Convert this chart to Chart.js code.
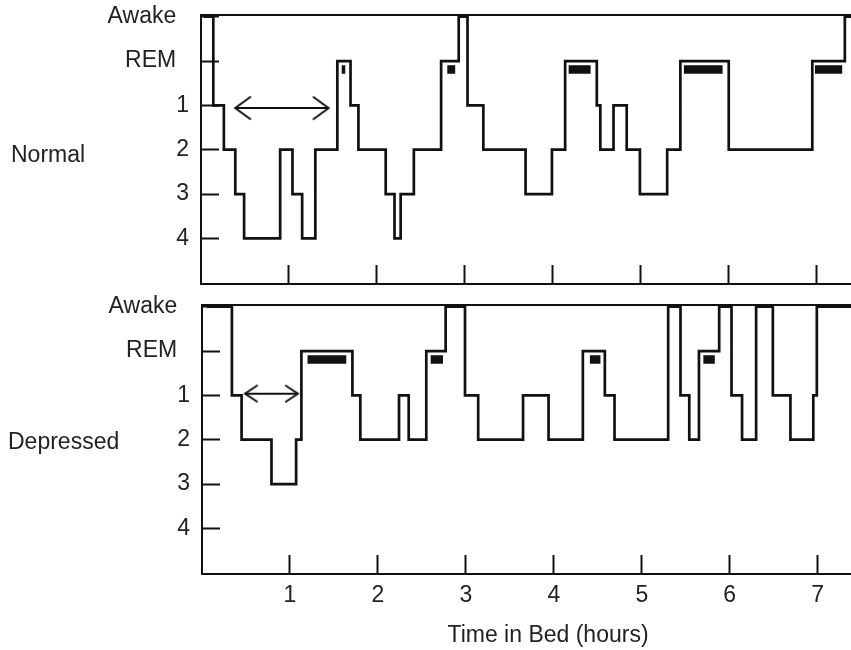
<!DOCTYPE html>
<html>
<head>
<meta charset="utf-8">
<script src="https://cdn.jsdelivr.net/npm/chart.js@4.4.0/dist/chart.umd.min.js"></script>
<style>
  html, body { margin: 0; padding: 0; background: #fff; overflow: hidden; }
  body { width: 851px; height: 650px; position: relative; font-family: "Liberation Sans", Arial, sans-serif; color: #222; }
  .panel { position: absolute; }
  #normalBox { left: 0; top: 0; width: 851px; height: 300px; }
  #depressedBox { left: 1px; top: 290px; width: 851px; height: 360px; }
  .label { position: absolute; font-size: 23px; line-height: 27px; white-space: nowrap; }
</style>
</head>
<body>
<div id="normalBox" class="panel"><canvas id="normalChart"></canvas></div>
<div id="depressedBox" class="panel"><canvas id="depressedChart"></canvas></div>
<div class="label" style="left:11px; top:141px">Normal</div>
<div class="label" style="left:8px; top:428px">Depressed</div>
<div class="label" style="left:548px; top:621px; transform: translateX(-50%)">Time in Bed (hours)</div>
<script>
// стадії сну знизу вгору (індекс = значення на осі y)
const stageLabels = ['4', '3', '2', '1', 'REM', 'Awake'];
const hourTicks = [1, 2, 3, 4, 5, 6, 7];

// норма: час початку кожної стадії (години) і сама стадія
const normalTimes = [0.03, 0.14, 0.26, 0.39, 0.49, 0.90, 1.04, 1.15, 1.30, 1.55, 1.70, 1.79, 2.10, 2.20, 2.27, 2.42, 2.73,
  2.93, 3.03, 3.21, 3.69, 3.99, 4.14, 4.50, 4.54, 4.69, 4.84, 4.99, 5.30, 5.45, 6.00, 6.95, 7.32, 7.45];
const normalStages = ['Awake', '1', '2', '3', '4', '2', '3', '4', '2', 'REM', '1', '2', '3', '4', '3', '2', 'REM',
  'Awake', '1', '2', '3', '2', 'REM', '1', '2', '1', '2', '3', '2', 'REM', '2', 'REM', 'Awake', 'Awake'];

// депресія
const depressedTimes = [0.05, 0.34, 0.45, 0.79, 1.07, 1.13, 1.71, 1.80, 2.24, 2.35, 2.55, 2.77, 2.99, 3.14, 3.65, 3.94,
  4.33, 4.58, 4.69, 5.30, 5.44, 5.54, 5.65, 5.88, 6.02, 6.14, 6.30, 6.49, 6.69, 6.95, 6.99, 7.45];
const depressedStages = ['Awake', '1', '2', '3', '2', 'REM', '1', '2', '1', '2', 'REM', 'Awake', '1', '2', '1', '2',
  'REM', '1', '2', 'Awake', '1', '2', 'REM', 'Awake', '1', '2', 'Awake', '1', '2', '1', 'Awake', 'Awake'];

// чорні смужки під REM (рухи очей)
const normalRemStart = [1.60, 2.80, 4.18, 5.49, 6.98];
const normalRemEnd = [1.64, 2.89, 4.43, 5.93, 7.29];
const depressedRemStart = [1.20, 2.60, 4.41, 5.70];
const depressedRemEnd = [1.64, 2.74, 4.53, 5.83];
const remMarkLevel = 3.81;

// латентність сну (стрілки)
const normalLatency = [0.39, 1.45];
const normalLatencyLevel = 2.94;
const depressedLatency = [0.49, 1.09];
const depressedLatencyLevel = 3.04;

const ink = '#111';
const textInk = '#222';
const font = { family: '"Liberation Sans", Arial, sans-serif', size: 23 };

function stepPoints(times, stages) {
  return times.map((t, i) => ({ x: t, y: stageLabels.indexOf(stages[i]) }));
}

function remPoints(starts, ends) {
  const pts = [];
  starts.forEach((s, i) => {
    pts.push({ x: s, y: remMarkLevel }, { x: ends[i], y: remMarkLevel }, { x: ends[i], y: null });
  });
  return pts;
}

// відкритий наконечник стрілки, вістря в центрі
function makeHead(len, half) {
  const c = document.createElement('canvas');
  c.width = len * 2 + 4;
  c.height = half * 2 + 4;
  const g = c.getContext('2d');
  g.strokeStyle = ink;
  g.lineWidth = 2;
  g.lineCap = 'round';
  g.beginPath();
  g.moveTo(c.width / 2 - len, c.height / 2 - half);
  g.lineTo(c.width / 2, c.height / 2);
  g.lineTo(c.width / 2 - len, c.height / 2 + half);
  g.stroke();
  return c;
}

// фіксований розмір осі без додаткових відступів
function fixSize(prop, size) {
  return s => {
    s[prop] = size;
    s.paddingTop = 0;
    s.paddingBottom = 0;
    s.paddingLeft = 0;
    s.paddingRight = 0;
  };
}

function makePanel(id, times, stages, remStart, remEnd, latency, latencyLevel, head, xAxisHeight, showLabels) {
  new Chart(document.getElementById(id), {
    type: 'line',
    data: {
      datasets: [
        {
          data: stepPoints(times, stages),
          stepped: true,
          borderColor: ink,
          borderWidth: 2.7,
          pointRadius: 0,
          fill: false
        },
        {
          data: remPoints(remStart, remEnd),
          borderColor: ink,
          borderWidth: 8.5,
          borderCapStyle: 'butt',
          pointRadius: 0,
          spanGaps: false
        },
        {
          data: [{ x: latency[0], y: latencyLevel }, { x: latency[1], y: latencyLevel }],
          borderColor: ink,
          borderWidth: 2,
          pointStyle: [head, head],
          pointRotation: [180, 0],
          pointRadius: 5
        }
      ]
    },
    options: {
      responsive: true,
      maintainAspectRatio: false,
      animation: false,
      events: [],
      layout: { padding: 0, autoPadding: false },
      plugins: { legend: { display: false }, tooltip: { enabled: false } },
      scales: {
        x: {
          type: 'linear',
          position: 'bottom',
          min: 0,
          max: 7.39,
          afterBuildTicks: s => { s.ticks = hourTicks.map(v => ({ value: v })); },
          afterFit: fixSize('height', xAxisHeight),
          grid: { drawOnChartArea: false, drawTicks: true, tickLength: -19, tickWidth: 2, tickColor: ink },
          border: { display: true, width: 2, color: ink },
          ticks: { display: showLabels, padding: 27, color: textInk, font: font, maxRotation: 0, autoSkip: false }
        },
        x2: {
          type: 'linear',
          position: 'top',
          min: 0,
          max: 7.39,
          afterFit: fixSize('height', 15),
          grid: { display: false },
          border: { display: true, width: 2, color: ink },
          ticks: { display: false }
        },
        y: {
          type: 'linear',
          min: -1.03,
          max: 5.04,
          afterBuildTicks: s => { s.ticks = stageLabels.map((_, i) => ({ value: i })); },
          afterFit: fixSize('width', 201),
          grid: { drawOnChartArea: false, drawTicks: true, tickLength: -18, tickWidth: 2, tickColor: ink },
          border: { display: true, width: 2, color: ink },
          ticks: {
            padding: 30,
            color: textInk,
            font: font,
            autoSkip: false,
            callback: v => stageLabels[v] + (isNaN(stageLabels[v]) ? '  ' : '')
          }
        }
      }
    }
  });
}

makePanel('normalChart', normalTimes, normalStages, normalRemStart, normalRemEnd,
  normalLatency, normalLatencyLevel, makeHead(15, 11), 16, false);
makePanel('depressedChart', depressedTimes, depressedStages, depressedRemStart, depressedRemEnd,
  depressedLatency, depressedLatencyLevel, makeHead(12, 8), 76, true);
</script>
</body>
</html>
